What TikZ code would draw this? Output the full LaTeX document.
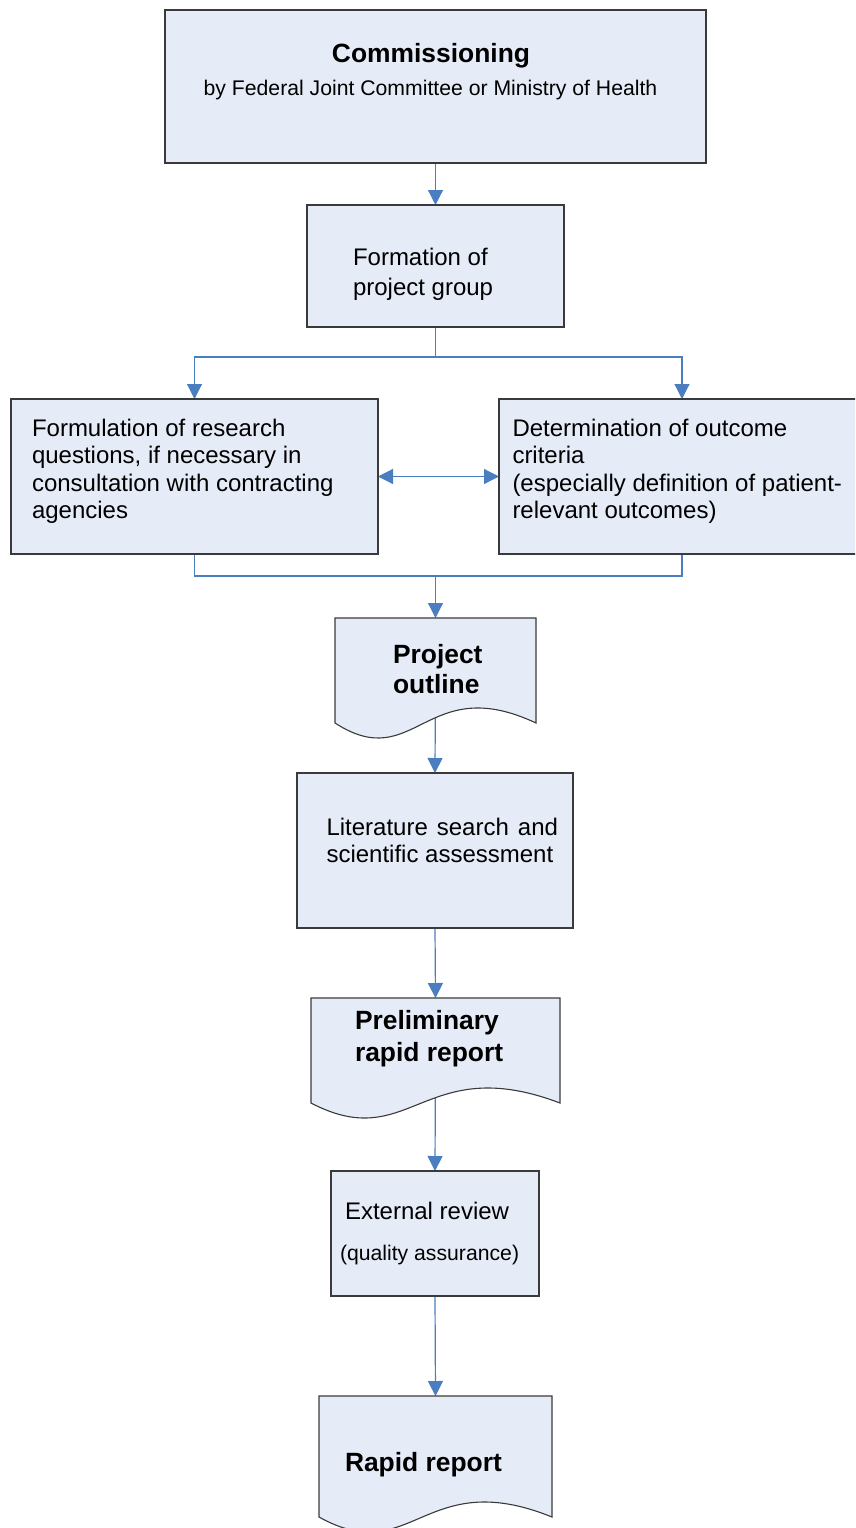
\documentclass[tikz,border=0pt]{standalone}
\usepackage{fontspec}
\setmainfont{Liberation Sans}
\usetikzlibrary{arrows.meta,calc,backgrounds}
\definecolor{boxfill}{HTML}{E6ECF7}
\definecolor{boxline}{HTML}{3A3A3A}
\definecolor{conncol}{HTML}{4A7EC0}
\tikzset{
  box/.style={draw=boxline, fill=boxfill, line width=1.1pt, inner sep=0pt, outer sep=0pt, anchor=north west},
  docanchor/.style={inner sep=0pt, outer sep=0pt, anchor=north west},
  docshape/.style={draw=boxline, fill=boxfill, line width=1.1pt},
  plainline/.style={draw=conncol, line width=1.2pt},
  connector/.style={plainline, -{Triangle[length=15pt,width=15pt]}},
  biconnector/.style={plainline, {Triangle[length=15pt,width=15pt]}-{Triangle[length=15pt,width=15pt]}},
  txt/.style={inner sep=0pt, outer sep=0pt, anchor=base west, align=left, font=\fontsize{24}{27.5}\selectfont},
  txtc/.style={inner sep=0pt, outer sep=0pt, anchor=base},
  bigbold/.style={font=\fontsize{26.4}{31}\selectfont\bfseries},
  subtxt/.style={font=\fontsize{21.2}{25}\selectfont},
}
\newcommand\docpath[1]{\path[docshape] (#1.north west) -- (#1.north east) -- (#1.south east)
  .. controls ($(#1.south west)!0.45!(#1.south east)+(0,-52)$) and ($(#1.south west)!0.4!(#1.south east)+(0,52)$) .. (#1.south west) -- cycle;}
\begin{document}
\begin{tikzpicture}[x=1pt,y=-1pt]
\useasboundingbox (0,0) rectangle (855,1528);
\clip (0,0) rectangle (855,1528);
% boxes
\node[box, minimum width=541pt, minimum height=153pt] (com) at (165,10) {};
\node[box, minimum width=257pt, minimum height=122pt] (form) at (307,205) {};
\node[box, minimum width=367pt, minimum height=155pt] (left) at (11,399) {};
\node[box, minimum width=366pt, minimum height=155pt] (right) at (499,399) {};
\node[docanchor, minimum width=201pt, minimum height=105pt] (po) at (335,618) {};
\docpath{po}
\node[box, minimum width=276pt, minimum height=155pt] (lit) at (297,773) {};
\node[docanchor, minimum width=249pt, minimum height=105pt] (pre) at (311,998) {};
\docpath{pre}
\node[box, minimum width=208pt, minimum height=125pt] (ext) at (331,1171) {};
\node[docanchor, minimum width=233pt, minimum height=121pt] (rr) at (319,1396) {};
\docpath{rr}
% texts (multi-line nodes: base anchor = last line's baseline)
\node[txtc, bigbold] (comt) at (431,63) {Commissioning};
\node[txtc, subtxt] (coms) at (430.5,95) {by Federal Joint Committee or Ministry of Health};
\node[txt, font=\fontsize{24}{30}\selectfont] (formt) at (353,295) {Formation of\\project group};
\node[txt] (leftt) at (32,518.5) {Formulation of research\\questions, if necessary in\\consultation with contracting\\agencies};
\node[txt] (rightt) at (512.5,518.5) {Determination of outcome\\criteria\\(especially definition of patient-\\relevant outcomes)};
\node[txt, bigbold, font=\fontsize{26.4}{30}\selectfont\bfseries] (pot) at (393,693) {Project\\outline};
\node[txt] (litt) at (326.5,862.5) {\hbox to 231.5pt{Literature\hfill search\hfill and}\\scientific assessment};
\node[txt, bigbold, font=\fontsize{26.4}{32.5}\selectfont\bfseries] (pret) at (355,1061.5) {Preliminary\\rapid report};
\node[txt] (extt) at (345,1219) {External review};
\node[txt, subtxt] (exts) at (340,1260) {(quality assurance)};
\node[txt, bigbold] (rrt) at (345,1471.5) {Rapid report};
% connectors
\coordinate (split) at (435.5,357);
\coordinate (merge) at (435.5,576);
\begin{pgfonlayer}{background}
\draw[plainline] (form.south) -- (split);
\draw[connector] (split) -| (left.north);
\draw[connector] (split) -| (right.north);
\draw[connector] (com.south) -- (form.north);
\draw[biconnector] (left.east) -- (right.west);
\draw[plainline] (left.south) |- (merge) -| (right.south);
\draw[connector] (merge) -- (po.north);
\draw[connector] (po.center) -- (lit.north);
\draw[connector] (lit.south) -- (pre.north);
\draw[connector] (pre.center) -- (ext.north);
\draw[connector] (ext.south) -- (rr.north);
\end{pgfonlayer}
\end{tikzpicture}
\end{document}
